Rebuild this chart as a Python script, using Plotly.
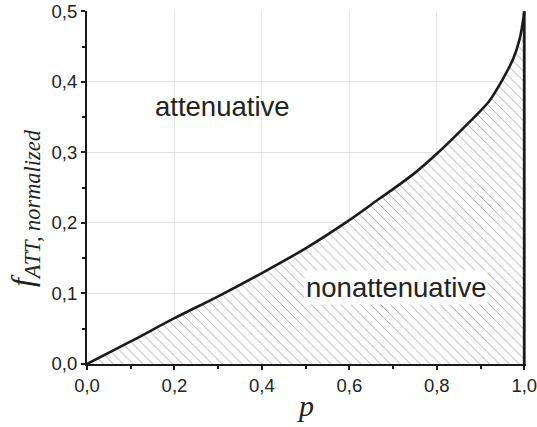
import plotly.graph_objects as go

# Boundary curve
p_vals = [0, 0.1, 0.2, 0.3, 0.4, 0.5, 0.6, 0.67, 0.7, 0.75, 0.8, 0.86, 0.92, 0.95, 0.975, 0.99, 0.997, 1.0]
f_vals = [0, 0.032, 0.065, 0.096, 0.129, 0.164, 0.204, 0.235, 0.248, 0.271, 0.298, 0.334, 0.373, 0.403, 0.433, 0.462, 0.486, 0.5]

x_ticks = [0, 0.2, 0.4, 0.6, 0.8, 1.0]
y_ticks = [0, 0.1, 0.2, 0.3, 0.4, 0.5]
region_labels = ["attenuative", "nonattenuative"]
label_pos = [(0.309, 0.365), (0.707, 0.108)]
y_title = "<i>f</i><sub><i>ATT, normalized</i></sub>"
x_title = "<i>p</i>"

# closed polygon: curve, then down the right edge, back along the p axis
poly_x = p_vals + [p_vals[-1], p_vals[0]]
poly_y = f_vals + [0, 0]

fig = go.Figure()
fig.add_trace(go.Scatter(
    x=poly_x, y=poly_y, mode="lines", fill="toself",
    fillcolor="rgba(0,0,0,0)",
    fillpattern=dict(shape="\\", fgcolor="#4a4a4a", bgcolor="white", size=7, solidity=0.13),
    line=dict(color="rgba(0,0,0,0)", width=0),
    hoverinfo="skip", showlegend=False,
))
fig.add_trace(go.Scatter(
    x=p_vals, y=f_vals, mode="lines", line=dict(color="#1a1a1a", width=2.6, shape="spline", smoothing=0.8),
    hoverinfo="skip", showlegend=False,
))
fig.add_trace(go.Scatter(
    x=[p_vals[-1], p_vals[-1]], y=[f_vals[-1], 0], mode="lines", line=dict(color="#1a1a1a", width=2.8),
    hoverinfo="skip", showlegend=False,
))

for txt, (lx, ly) in zip(region_labels, label_pos):
    fig.add_annotation(
        x=lx, y=ly, text=txt, showarrow=False,
        font=dict(family="Liberation Sans, Arial", size=27.5, color="#222"),
        bgcolor="white" if txt == "nonattenuative" else "rgba(0,0,0,0)",
        borderpad=1,
    )

fig.add_annotation(
    xref="paper", yref="paper", x=-0.141, y=0.442, text=y_title, textangle=-90,
    showarrow=False, xanchor="center", yanchor="middle",
    font=dict(family="Liberation Serif, Times New Roman", size=32, color="#222"),
)

axis_font = dict(family="Liberation Sans, Arial", size=18.5, color="#222")
fig.update_layout(
    width=537, height=427,
    margin=dict(l=87, r=11, t=11, b=63, autoexpand=False),
    plot_bgcolor="white", paper_bgcolor="white",
    separators=", ",
    xaxis=dict(
        range=[0, 1.004], tickvals=x_ticks, tickformat=".1f", ticklabeloverflow="allow",
        automargin=False,
        showline=True, linecolor="#1a1a1a", linewidth=2,
        ticks="outside", ticklen=4, tickwidth=1.5, tickcolor="#1a1a1a",
        minor=dict(dtick=0.1, ticks="outside", ticklen=3, tickwidth=1.5, tickcolor="#1a1a1a", showgrid=False),
        showgrid=True, gridcolor="#e8e8e8", gridwidth=1,
        zeroline=False, tickfont=axis_font,
        title=dict(text=x_title, font=dict(family="Liberation Serif, Times New Roman", size=30, color="#222"), standoff=0),
    ),
    yaxis=dict(
        range=[0, 0.5005], tickvals=y_ticks, tickformat=".1f", ticklabeloverflow="allow",
        automargin=False,
        showline=True, linecolor="#1a1a1a", linewidth=2,
        ticks="outside", ticklen=4, tickwidth=1.5, tickcolor="#1a1a1a",
        minor=dict(dtick=0.05, ticks="outside", ticklen=3, tickwidth=1.5, tickcolor="#1a1a1a", showgrid=False),
        showgrid=True, gridcolor="#e3e3e3", gridwidth=1,
        zeroline=False, tickfont=axis_font,
    ),
)
fig.write_html("out.html")
